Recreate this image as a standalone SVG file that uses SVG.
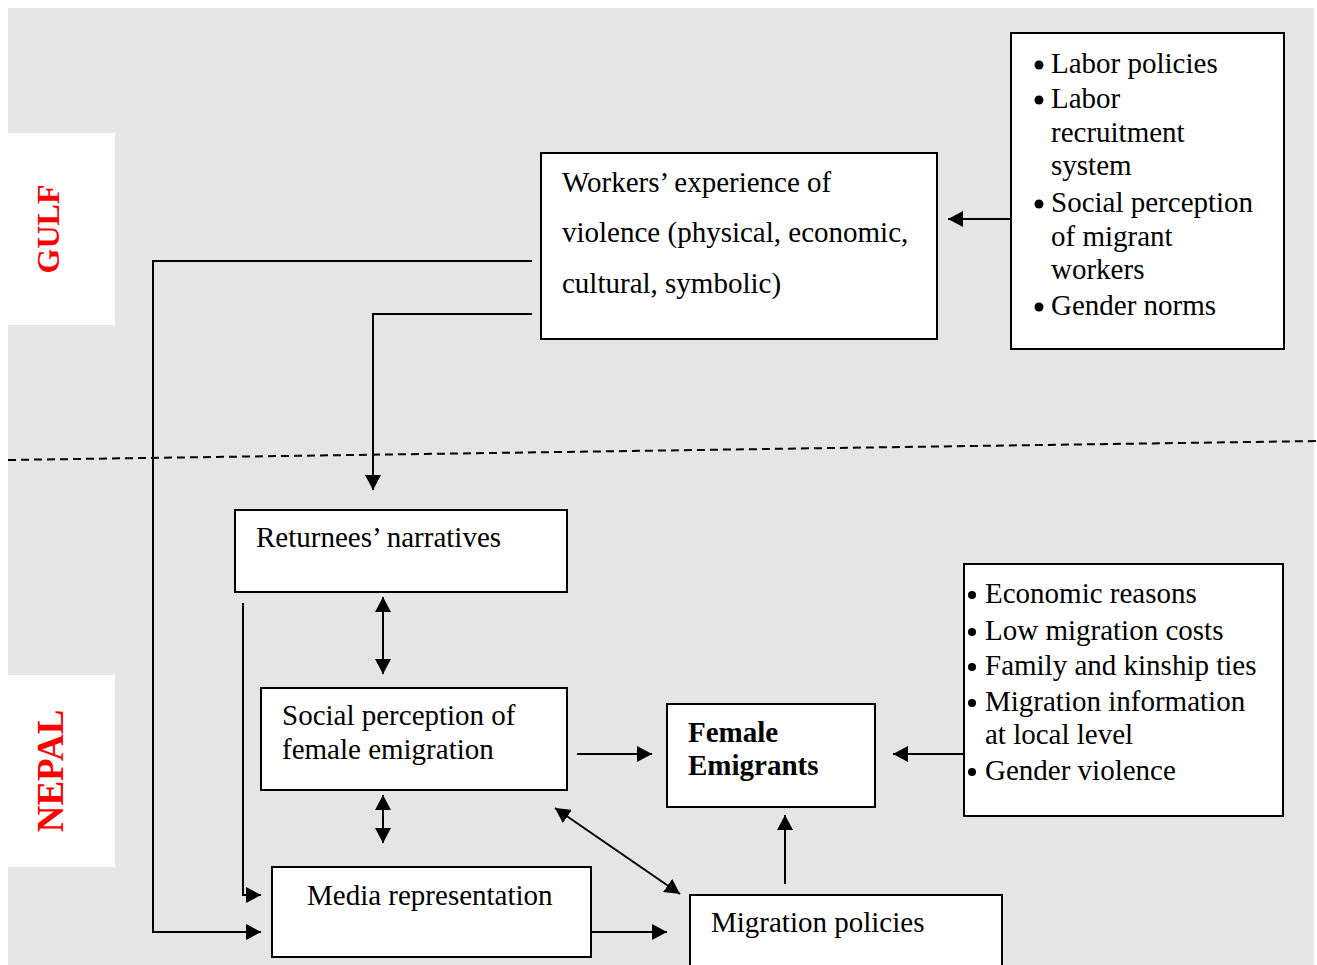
<svg xmlns="http://www.w3.org/2000/svg" width="1317" height="965" viewBox="0 0 1317 965">
<style>
.box{fill:#fff;stroke:#000;stroke-width:2}
.t{font-family:"Liberation Serif","Times New Roman",serif;font-size:29px;fill:#000}
.b{font-weight:bold}
.lbl{font-family:"Liberation Serif","Times New Roman",serif;font-weight:bold;fill:#ff0000}
.c{fill:none;stroke:#000;stroke-width:2}
.dot{fill:#000}
</style>
<defs>
<marker id="ah" viewBox="0 0 15 16" refX="15" refY="8" markerWidth="15" markerHeight="16" markerUnits="userSpaceOnUse" orient="auto-start-reverse">
<path d="M0,0 L15,8 L0,16 Z" fill="#000"/>
</marker>
</defs>
<rect x="0" y="0" width="1317" height="965" fill="#fff"/>
<rect x="8" y="8" width="1306" height="957" fill="#e5e5e5"/>
<g id="gulf-label">
<rect x="8" y="133" width="107" height="192" fill="#fff"/>
<text class="lbl" font-size="32" transform="translate(59,229) rotate(-90)" text-anchor="middle">GULF</text>
</g>
<g id="nepal-label">
<rect x="8" y="675" width="107" height="192" fill="#fff"/>
<text class="lbl" font-size="37" transform="translate(63,771) rotate(-90)" text-anchor="middle">NEPAL</text>
</g>
<line x1="8" y1="460" x2="1317" y2="441" stroke="#000" stroke-width="2" stroke-dasharray="8,5"/>
<g id="connectors">
<polyline class="c" points="532,261 153,261 153,932 261,932" marker-end="url(#ah)"/>
<polyline class="c" points="532,314 373,314 373,490" marker-end="url(#ah)"/>
<line class="c" x1="1011" y1="219" x2="948" y2="219" marker-end="url(#ah)"/>
<polyline class="c" points="243,603 243,895 261,895" marker-end="url(#ah)"/>
<line class="c" x1="383" y1="597" x2="383" y2="674" marker-start="url(#ah)" marker-end="url(#ah)"/>
<line class="c" x1="383" y1="795" x2="383" y2="843" marker-start="url(#ah)" marker-end="url(#ah)"/>
<line class="c" x1="555" y1="808" x2="680" y2="894" marker-start="url(#ah)" marker-end="url(#ah)"/>
<line class="c" x1="577" y1="754" x2="652" y2="754" marker-end="url(#ah)"/>
<line class="c" x1="591" y1="932" x2="667" y2="932" marker-end="url(#ah)"/>
<line class="c" x1="785" y1="884" x2="785" y2="815" marker-end="url(#ah)"/>
<line class="c" x1="964" y1="754" x2="893" y2="754" marker-end="url(#ah)"/>
</g>
<g id="workers">
<rect class="box" x="541" y="153" width="396" height="186"/>
<text class="t" x="562" y="192">Workers’ experience of</text>
<text class="t" x="562" y="242">violence (physical, economic,</text>
<text class="t" x="562" y="293">cultural, symbolic)</text>
</g>
<g id="gulf-factors">
<rect class="box" x="1011" y="33" width="273" height="316"/>
<circle class="dot" cx="1039" cy="65" r="4.5"/><text class="t" x="1051" y="73">Labor policies</text>
<circle class="dot" cx="1039" cy="100" r="4.5"/><text class="t" x="1051" y="108">Labor</text>
<text class="t" x="1051" y="142">recruitment</text>
<text class="t" x="1051" y="175">system</text>
<circle class="dot" cx="1039" cy="204" r="4.5"/><text class="t" x="1051" y="212">Social perception</text>
<text class="t" x="1051" y="246">of migrant</text>
<text class="t" x="1051" y="279">workers</text>
<circle class="dot" cx="1039" cy="307" r="4.5"/><text class="t" x="1051" y="315">Gender norms</text>
</g>
<g id="returnees">
<rect class="box" x="235" y="510" width="332" height="82"/>
<text class="t" x="256" y="547">Returnees’ narratives</text>
</g>
<g id="social">
<rect class="box" x="261" y="688" width="306" height="102"/>
<text class="t" x="282" y="725">Social perception of</text>
<text class="t" x="282" y="759">female emigration</text>
</g>
<g id="media">
<rect class="box" x="272" y="867" width="319" height="90"/>
<text class="t" x="307" y="905">Media representation</text>
</g>
<g id="female">
<rect class="box" x="667" y="704" width="208" height="103"/>
<text class="t b" x="688" y="742">Female</text>
<text class="t b" x="688" y="775">Emigrants</text>
</g>
<g id="migration">
<rect class="box" x="690" y="895" width="312" height="80"/>
<text class="t" x="711" y="932">Migration policies</text>
</g>
<g id="nepal-factors">
<rect class="box" x="964" y="564" width="319" height="252"/>
<circle class="dot" cx="972" cy="595" r="4"/><text class="t" x="985" y="603">Economic reasons</text>
<circle class="dot" cx="972" cy="632" r="4"/><text class="t" x="985" y="640">Low migration costs</text>
<circle class="dot" cx="972" cy="667" r="4"/><text class="t" x="985" y="675">Family and kinship ties</text>
<circle class="dot" cx="972" cy="703" r="4"/><text class="t" x="985" y="711">Migration information</text>
<text class="t" x="985" y="744">at local level</text>
<circle class="dot" cx="972" cy="772" r="4"/><text class="t" x="985" y="780">Gender violence</text>
</g>
</svg>
